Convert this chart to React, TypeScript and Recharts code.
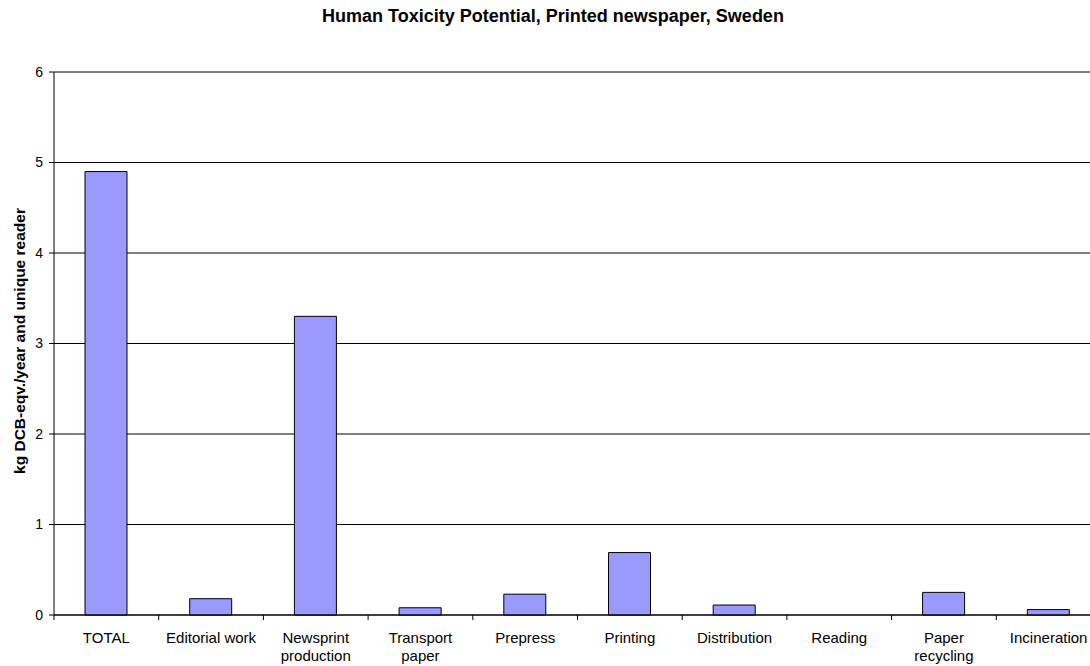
import { BarChart, Bar, XAxis, YAxis, CartesianGrid } from "recharts"

const categories = [
  "TOTAL",
  "Editorial work",
  "Newsprint production",
  "Transport paper",
  "Prepress",
  "Printing",
  "Distribution",
  "Reading",
  "Paper recycling",
  "Incineration",
]
const values = [4.9, 0.18, 3.3, 0.08, 0.23, 0.69, 0.11, 0, 0.25, 0.06]
const yTicks = [0, 1, 2, 3, 4, 5, 6]

// two-line labels where the original wraps
const labelLines: Record<string, string[]> = {
  "Newsprint production": ["Newsprint", "production"],
  "Transport paper": ["Transport", "paper"],
  "Paper recycling": ["Paper", "recycling"],
}

const data = categories.map((name, i) => ({ name, value: values[i] }))

const W = 1110
const H = 666
const M = { top: 72, right: 9, bottom: 0, left: 24 }
const Y_W = 30
const BAND = (W - M.left - M.right - Y_W) / categories.length
const FONT = "Arial, 'Liberation Sans', sans-serif"

function CatTick(props: any) {
  const { x, y, payload } = props
  const lines = labelLines[payload.value] ?? [payload.value]
  const left = x - BAND / 2
  return (
    <g>
      <line x1={left} y1={615} x2={left} y2={620} stroke="#000" />
      <text x={x} y={y + 20} textAnchor="middle" fontSize={15} fontFamily={FONT} fill="#000">
        {lines.map((l, i) => (
          <tspan key={i} x={x} dy={i === 0 ? 0 : 18}>
            {l}
          </tspan>
        ))}
      </text>
    </g>
  )
}

export default function App() {
  return (
    <div style={{ position: "absolute", left: 0, top: 0, width: 1090, height: 666, overflow: "hidden", background: "#fff" }}>
      <BarChart width={W} height={H} data={data} margin={M} barSize={42}>
        <text x={553} y={22} textAnchor="middle" fontSize={18} fontWeight="bold" fontFamily={FONT} fill="#000">
          Human Toxicity Potential, Printed newspaper, Sweden
        </text>
        <text
          x={0}
          y={0}
          transform={`translate(25, 341) rotate(-90)`}
          textAnchor="middle"
          fontSize={15.5}
          fontWeight="bold"
          fontFamily={FONT}
          fill="#000"
        >
          kg DCB-eqv./year and unique reader
        </text>
        <CartesianGrid vertical={false} stroke="#000" strokeWidth={1} />
        <XAxis
          dataKey="name"
          interval={0}
          height={51}
          axisLine={{ stroke: "#000" }}
          tickLine={false}
          tick={<CatTick />}
        />
        <YAxis
          width={Y_W}
          domain={[0, 6]}
          ticks={yTicks}
          interval={0}
          axisLine={{ stroke: "#000" }}
          tickLine={{ stroke: "#000" }}
          tickSize={5}
          tickMargin={6}
          tick={{ fontSize: 14, fontFamily: FONT, fill: "#000" }}
        />
        <Bar dataKey="value" fill="#9999FF" stroke="#000" strokeWidth={1} isAnimationActive={false} />
      </BarChart>
    </div>
  )
}
